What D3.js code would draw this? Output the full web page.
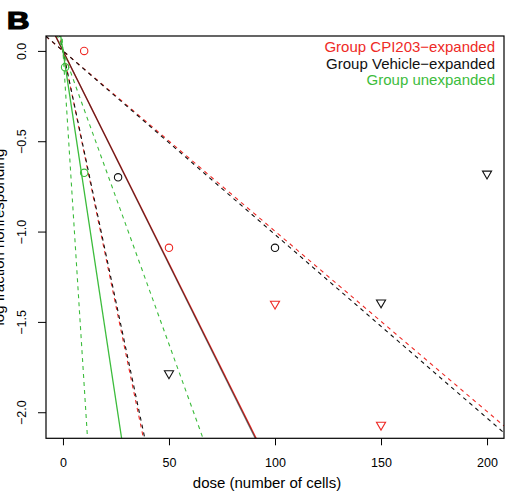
<!DOCTYPE html>
<html>
<head>
<meta charset="utf-8">
<script src="https://cdn.jsdelivr.net/npm/d3@7"></script>
<style>
  body { margin: 0; background: #fff; }
  text { font-family: "Liberation Sans", Arial, sans-serif; }
</style>
</head>
<body>
<div id="chart"></div>
<script>
// Data

var groupNames = ["Group CPI203\u2212expanded", "Group Vehicle\u2212expanded", "Group unexpanded"];

// points: dose, log fraction nonresponding, all-responded flag (drawn as triangle)
var cpiDose = [10, 50, 100, 150];
var cpiLogFrac = [0.0, -1.09, -1.40, -2.07];
var cpiAllResp = [false, false, true, true];

var vehDose = [26, 50, 100, 150, 200];
var vehLogFrac = [-0.70, -1.785, -1.09, -1.393, -0.68];
var vehAllResp = [false, true, false, true, true];

var unxDose = [1, 10];
var unxLogFrac = [-0.09, -0.675];
var unxAllResp = [false, false];

// 1/frequency lines: estimate, lower, upper
var cpiEst = [42.5, 17.7, 100.2];
var vehEst = [42.3, 18.0, 98.4];
var unxEst = [12.9, 5.4, 30.8];

var xTicks = [0, 50, 100, 150, 200];
var yTicks = [0, -0.5, -1.0, -1.5, -2.0];

// Set up the chart area
var svgWidth = 505;
var svgHeight = 497;
var plot = { left: 46, right: 504, top: 36, bottom: 438.3 };

var colors = ["#ee2a26", "#111111", "#3cbc3c"];

var svg = d3.select("#chart")
  .append("svg")
  .attr("width", svgWidth)
  .attr("height", svgHeight);

// Scales (R style 4% extension)
var yMin = -2.0618, yMax = 0;
var yExt = (yMax - yMin) * 0.04;
var x = d3.scaleLinear().domain([-8, 208]).range([plot.left, plot.right]);
var y = d3.scaleLinear().domain([yMin - yExt, yMax + yExt]).range([plot.bottom, plot.top]);

svg.append("clipPath").attr("id", "clip")
  .append("rect")
  .attr("x", plot.left).attr("y", plot.top)
  .attr("width", plot.right - plot.left)
  .attr("height", plot.bottom - plot.top);

var groups = [
  { dose: cpiDose, frac: cpiLogFrac, tri: cpiAllResp, est: cpiEst },
  { dose: vehDose, frac: vehLogFrac, tri: vehAllResp, est: vehEst },
  { dose: unxDose, frac: unxLogFrac, tri: unxAllResp, est: unxEst }
];

var lineGroup = svg.append("g").attr("clip-path", "url(#clip)");

// lines through origin: log fraction = -dose / E
groups.forEach(function(g, gi) {
  g.est.forEach(function(e, k) {
    var d0 = -8, d1 = 208;
    lineGroup.append("line")
      .attr("x1", x(d0)).attr("y1", y(-d0 / e))
      .attr("x2", x(d1)).attr("y2", y(-d1 / e))
      .attr("stroke", colors[gi])
      .attr("stroke-width", k === 0 ? 1.3 : 1.1)
      .attr("stroke-opacity", k === 0 && gi === 1 ? 0.6 : 1)
      .attr("stroke-dasharray", k === 0 ? null : "4,4");
  });
});

// points
var tri = d3.symbol().type(d3.symbolTriangle).size(36);
groups.forEach(function(g, gi) {
  g.dose.forEach(function(d, i) {
    if (g.tri[i]) {
      svg.append("path")
        .attr("d", tri())
        .attr("transform", "translate(" + x(d) + "," + y(g.frac[i]) + ") rotate(180)")
        .attr("fill", "none")
        .attr("stroke", colors[gi])
        .attr("stroke-width", 1.1);
    } else {
      svg.append("circle")
        .attr("cx", x(d)).attr("cy", y(g.frac[i]))
        .attr("r", 3.7)
        .attr("fill", "none")
        .attr("stroke", colors[gi])
        .attr("stroke-width", 1.1);
    }
  });
});

// box
svg.append("rect")
  .attr("x", plot.left).attr("y", plot.top)
  .attr("width", plot.right - plot.left)
  .attr("height", plot.bottom - plot.top)
  .attr("fill", "none")
  .attr("stroke", "#000")
  .attr("stroke-width", 1.2);

// Axes
var xAxis = svg.append("g")
  .attr("transform", "translate(0," + plot.bottom + ")")
  .call(d3.axisBottom(x).tickValues(xTicks).tickSize(7).tickFormat(d3.format("d")));
xAxis.select(".domain").remove();
xAxis.selectAll("text")
  .attr("y", 28.5).attr("dy", null)
  .attr("fill", "#000")
  .style("font-size", "12.5px");

var yAxis = svg.append("g")
  .attr("transform", "translate(" + plot.left + ",0)")
  .call(d3.axisLeft(y).tickValues(yTicks).tickSize(8).tickFormat(d3.format(".1f")));
yAxis.select(".domain").remove();
yAxis.selectAll("text")
  .attr("x", null).attr("dy", null)
  .attr("text-anchor", "middle")
  .attr("transform", "translate(-20.5,0) rotate(-90)")
  .attr("fill", "#000")
  .style("font-size", "12.5px");

// Axis titles
svg.append("text")
  .attr("x", 267).attr("y", 488)
  .attr("text-anchor", "middle")
  .style("font-size", "15px")
  .text("dose (number of cells)");

svg.append("text")
  .attr("transform", "translate(4," + (plot.top + plot.bottom) / 2 + ") rotate(-90)")
  .attr("text-anchor", "middle")
  .style("font-size", "15px")
  .text("log fraction nonresponding");

// Legend
groupNames.forEach(function(name, i) {
  svg.append("text")
    .attr("x", 495).attr("y", 52 + i * 16.5)
    .attr("text-anchor", "end")
    .attr("fill", colors[i])
    .style("font-size", "15px")
    .text(name);
});

// panel letter
svg.append("text")
  .attr("transform", "translate(7,29) scale(1.35,1)")
  .style("font-size", "23px")
  .style("font-weight", "bold")
  .attr("stroke", "#000")
  .attr("stroke-width", 1.2)
  .text("B");
</script>
</body>
</html>
